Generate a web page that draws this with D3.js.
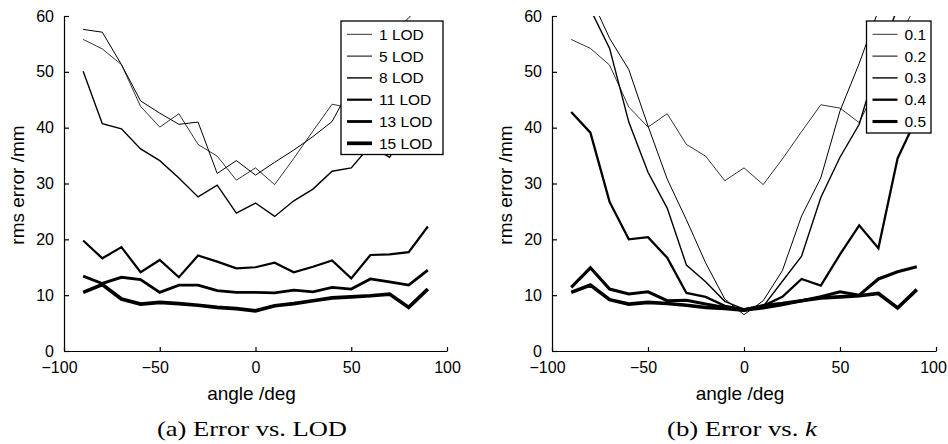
<!DOCTYPE html>
<html>
<head>
<meta charset="utf-8">
<script src="https://cdn.jsdelivr.net/npm/d3@7"></script>
<style>
  body { margin: 0; background: #fff; }
  svg text { font-family: "Liberation Sans", Arial, sans-serif; fill: #000; }
  svg .caption { font-family: "Liberation Serif", "Times New Roman", serif; }
</style>
</head>
<body>
<svg id="chart"></svg>
<script>
// --- DATA ---
const angles = [-90, -80, -70, -60, -50, -40, -30, -20, -10, 0, 10, 20, 30, 40, 50, 60, 70, 80, 90];
const xTicks = [-100, -50, 0, 50, 100];
const yTicks = [0, 10, 20, 30, 40, 50, 60];

// (a) error vs. LOD
const lodNames = ["1 LOD", "5 LOD", "8 LOD", "11 LOD", "13 LOD", "15 LOD"];
const lod1  = [55.8, 54.1, 51.3, 43.8, 40.1, 42.5, 37.0, 34.9, 30.6, 32.8, 29.8, 34.5, 39.4, 44.2, 43.5, 40.9, 48.0, 56.0, 59.0];
const lod5  = [57.6, 57.1, 51.3, 44.8, 42.6, 40.6, 41.0, 31.8, 34.1, 31.5, 33.8, 36.0, 38.4, 41.1, 47.5, 51.5, 56.0, 59.7, 63.0];
const lod8  = [50.1, 40.7, 39.8, 36.2, 34.1, 31.0, 27.6, 29.7, 24.7, 26.5, 24.1, 26.9, 29.0, 32.2, 32.8, 36.8, 34.7, 40.0, 45.0];
const lod11 = [19.8, 16.6, 18.6, 14.1, 16.3, 13.2, 17.1, 16.0, 14.8, 15.0, 15.8, 14.1, 15.1, 16.2, 13.0, 17.2, 17.3, 17.7, 22.3];
const lod13 = [13.4, 12.1, 13.2, 12.8, 10.5, 11.8, 11.8, 10.8, 10.5, 10.5, 10.4, 10.9, 10.6, 11.4, 11.1, 12.9, 12.4, 11.8, 14.5];
const lod15 = [10.5, 11.9, 9.3, 8.4, 8.7, 8.5, 8.2, 7.8, 7.6, 7.2, 8.1, 8.5, 9.0, 9.5, 9.7, 9.9, 10.2, 7.8, 11.1];

// (b) error vs. k  (the last curve has no legend entry in the original)
const kNames = ["0.1", "0.2", "0.3", "0.4", "0.5"];
const k01 = [55.8, 54.2, 51.2, 43.7, 40.1, 42.5, 37.0, 34.9, 30.5, 32.8, 29.8, 34.4, 39.3, 44.1, 43.5, 40.9, 48.0, 56.0, 62.0];
const k02 = [72.0, 63.5, 56.0, 50.4, 40.3, 30.8, 23.5, 15.8, 9.3, 6.5, 9.0, 14.4, 24.2, 31.0, 43.0, 51.5, 61.0, 70.0, 75.0];
const k03 = [68.0, 61.2, 54.2, 41.0, 32.0, 25.6, 15.4, 12.4, 8.9, 7.5, 8.0, 12.5, 17.0, 27.5, 34.7, 40.6, 52.0, 61.5, 70.0];
const k04 = [42.8, 39.1, 26.7, 20.0, 20.4, 16.7, 10.4, 9.7, 8.1, 7.5, 8.1, 9.7, 12.9, 11.7, 17.3, 22.5, 18.4, 34.5, 41.8];
const k05 = [11.4, 14.9, 11.1, 10.2, 10.6, 9.0, 9.1, 8.4, 7.8, 7.3, 7.7, 8.3, 9.0, 9.7, 10.6, 10.0, 12.9, 14.2, 15.1];
const kExtra = [10.5, 11.8, 9.2, 8.4, 8.7, 8.5, 8.2, 7.8, 7.6, 7.3, 8.1, 8.5, 9.0, 9.5, 9.7, 9.9, 10.3, 7.7, 11.0];

// --- SETUP ---
const W = 948, H = 444;
const svg = d3.select("#chart").attr("width", W).attr("height", H);

function drawPanel(p) {
    const x = d3.scaleLinear().domain([-100, 100]).range([p.left, p.right]);
    const y = d3.scaleLinear().domain([0, 60]).range([351, 16]);
    const g = svg.append("g");

    g.append("clipPath").attr("id", p.id + "-clip")
        .append("rect")
        .attr("x", x(-100)).attr("y", y(60))
        .attr("width", x(100) - x(-100)).attr("height", y(0) - y(60));

    // curves
    const line = d3.line().x((d, i) => x(angles[i])).y(d => y(d));
    g.append("g").attr("clip-path", `url(#${p.id}-clip)`)
        .selectAll("path")
        .data(p.series)
        .join("path")
        .attr("d", d => line(d.values))
        .attr("fill", "none")
        .attr("stroke", "#000")
        .attr("stroke-width", d => d.w);

    // axes (ticks point inward)
    const ax = g.append("g").attr("transform", "translate(0,351)")
        .call(d3.axisBottom(x).tickValues(xTicks).tickSizeInner(-4).tickSizeOuter(0).tickPadding(11));
    // minus sign hangs to the left; keep the last label inside the page
    ax.selectAll("text").attr("dx", d => d < 0 ? -5 : (d === 100 ? p.lastDx : 0));

    const ay = g.append("g").attr("transform", `translate(${p.left},0)`)
        .call(d3.axisLeft(y).tickValues(yTicks).tickSizeInner(-5).tickSizeOuter(0).tickPadding(10));

    [ax, ay].forEach(a => {
        a.attr("font-family", null).attr("font-size", null);
        a.selectAll("text").style("font-size", "16px");
        a.selectAll("path, line").attr("stroke", "#000").attr("stroke-width", 1.2);
    });

    // axis titles
    g.append("text")
        .attr("x", (p.left + p.right) / 2 - 4).attr("y", 400)
        .attr("text-anchor", "middle").style("font-size", "19px")
        .text("angle /deg");
    g.append("text")
        .attr("transform", `translate(${p.left - 40},185) rotate(-90)`)
        .attr("text-anchor", "middle").style("font-size", "19px")
        .text("rms error /mm");

    // legend
    const lg = g.append("g");
    lg.append("rect")
        .attr("x", p.legend.x).attr("y", 21)
        .attr("width", p.legend.w).attr("height", p.legend.h)
        .attr("fill", "#fff").attr("stroke", "#000").attr("stroke-width", 1.3);
    const items = p.series.filter(d => d.name);
    const row = lg.selectAll("g.item").data(items).join("g").attr("class", "item")
        .attr("transform", (d, i) => `translate(${p.legend.x},${34.3 + i * 21.8})`);
    row.append("line")
        .attr("x1", 6).attr("x2", 31)
        .attr("stroke", "#000").attr("stroke-width", d => d.w);
    row.append("text")
        .attr("x", 38).attr("dy", "0.36em")
        .style("font-size", "15.5px")
        .text(d => d.name);

    // caption
    const cap = g.append("text").attr("class", "caption")
        .attr("x", p.caption.x).attr("y", 436)
        .attr("text-anchor", "middle").style("font-size", "21px")
        .attr("textLength", p.caption.len).attr("lengthAdjust", "spacingAndGlyphs");
    cap.append("tspan").text(p.caption.text);
    if (p.caption.italic) cap.append("tspan").style("font-style", "italic").text(p.caption.italic);
}

const lodWidths = [0.8, 1.0, 1.4, 2.2, 2.8, 3.7];
drawPanel({
    id: "a", left: 64, right: 447, lastDx: 0,
    series: [lod1, lod5, lod8, lod11, lod13, lod15].map((v, i) => ({ name: lodNames[i], values: v, w: lodWidths[i] })),
    legend: { x: 341, w: 102, h: 133.5 },
    caption: { x: 252, text: "(a) Error vs. LOD", len: 190 }
});

const kWidths = [0.8, 1.0, 1.4, 2.3, 3.1];
const kSeries = [k01, k02, k03, k04, k05].map((v, i) => ({ name: kNames[i], values: v, w: kWidths[i] }));
kSeries.push({ name: null, values: kExtra, w: 3.6 });
drawPanel({
    id: "b", left: 552, right: 936, lastDx: -3,
    series: kSeries,
    legend: { x: 866.5, w: 64.5, h: 112 },
    caption: { x: 742, text: "(b) Error vs. ", italic: "k", len: 150 }
});
</script>
</body>
</html>
